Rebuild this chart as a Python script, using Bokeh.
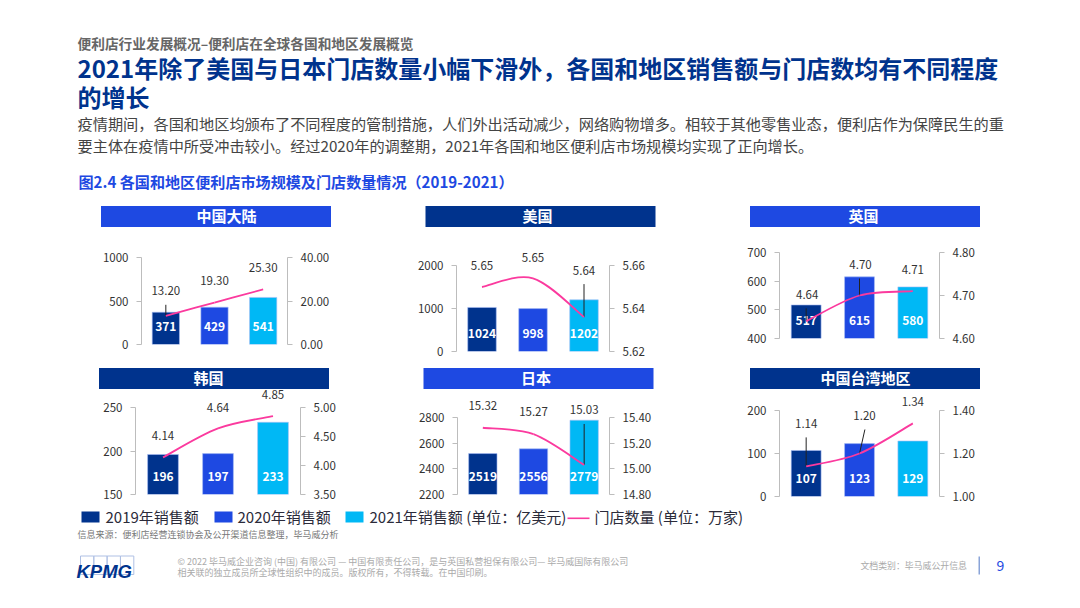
from bokeh.core.properties import value
from bokeh.embed import file_html
from bokeh.layouts import column, row
from bokeh.models import (BoxAnnotation, ColumnDataSource, FixedTicker, Label,
                          LinearAxis, NumeralTickFormatter, Range1d)
from bokeh.plotting import figure
from bokeh.resources import INLINE

# ---------- data ----------
YEARS = ["2019", "2020", "2021"]
sales_china = [371, 429, 541]
stores_china = [13.20, 19.30, 25.30]
sales_us = [1024, 998, 1202]
stores_us = [5.650, 5.654, 5.636]
sales_uk = [517, 615, 580]
stores_uk = [4.64, 4.70, 4.71]
sales_korea = [196, 197, 233]
stores_korea = [4.14, 4.64, 4.85]
sales_japan = [2519, 2556, 2779]
stores_japan = [15.32, 15.27, 15.03]
sales_taiwan = [107, 123, 129]
stores_taiwan = [1.14, 1.20, 1.34]

ticks_china = ([0, 500, 1000], [0, 20, 40])
ticks_us = ([0, 1000, 2000], [5.62, 5.64, 5.66])
ticks_uk = ([400, 500, 600, 700], [4.6, 4.7, 4.8])
ticks_korea = ([150, 200, 250], [3.5, 4.0, 4.5, 5.0])
ticks_japan = ([2200, 2400, 2600, 2800], [14.8, 15.0, 15.2, 15.4])
ticks_taiwan = ([0, 100, 200], [1.0, 1.2, 1.4])

SUBTITLE = "便利店行业发展概况–便利店在全球各国和地区发展概览"
TITLE_1 = "2021年除了美国与日本门店数量小幅下滑外，各国和地区销售额与门店数均有不同程度"
TITLE_2 = "的增长"
BODY_1 = "疫情期间，各国和地区均颁布了不同程度的管制措施，人们外出活动减少，网络购物增多。相较于其他零售业态，便利店作为保障民生的重"
BODY_2 = "要主体在疫情中所受冲击较小。经过2020年的调整期，2021年各国和地区便利店市场规模均实现了正向增长。"
CAPTION = "图2.4 各国和地区便利店市场规模及门店数量情况（2019-2021）"
SOURCE = "信息来源：便利店经营连锁协会及公开渠道信息整理，毕马威分析"
FOOT_1 = "© 2022 毕马威企业咨询 (中国) 有限公司 — 中国有限责任公司，是与英国私营担保有限公司— 毕马威国际有限公司"
FOOT_2 = "相关联的独立成员所全球性组织中的成员。版权所有，不得转载。在中国印刷。"
DOC_CLASS = "文档类别：毕马威公开信息"

# ---------- style ----------
FONT = "Noto Sans CJK SC"
NAVY, BLUE, CYAN, PINK = "#00338D", "#1E49E2", "#00B8F5", "#FB3A9E"
BAR_COLORS = [NAVY, BLUE, CYAN]
TEXT = "#333333"
ROW1 = (240, 360)
ROW2 = (385, 505)
MID_BOTTOM = 389


def panel(sales, stores, ticks, box, offsets, leaders):
    """box: page px (panel_left, panel_right, panel_top, panel_bottom, frame_left, frame_w, frame_top, frame_h)

    The frame runs up to the panel top so that labels above the axes stay visible; the
    ranges are extended by the same share and the axes are bounded to their ticks.
    """
    pl, pr, pt, pb, fl, fw, ft, fh = box
    left_ticks, right_ticks = ticks
    y0, y1 = left_ticks[0], left_ticks[-1]
    r0, r1 = right_ticks[0], right_ticks[-1]
    extra = (ft - pt) / fh
    p = figure(title=None, width=None, height=None, frame_width=fw, frame_height=fh + ft - pt,
               x_range=Range1d(0, 3), y_range=Range1d(y0, y1 + (y1 - y0) * extra),
               output_backend="svg", toolbar_location=None,
               min_border_left=fl - pl, min_border_right=pr - fl - fw,
               min_border_top=0, min_border_bottom=pb - ft - fh,
               outline_line_color=None, background_fill_alpha=0, border_fill_alpha=0)
    p.grid.visible = False
    p.xaxis.visible = False
    p.yaxis.visible = False
    p.extra_y_ranges = {"stores": Range1d(r0, r1 + (r1 - r0) * extra)}

    def style(ax, values, fmt):
        ax.ticker = FixedTicker(ticks=values)
        ax.bounds = (values[0], values[-1])
        ax.formatter = NumeralTickFormatter(format=fmt)
        ax.axis_line_color = "#BDBDBD"
        ax.major_tick_line_color = "#BDBDBD"
        ax.axis_line_width = 1
        ax.major_tick_out = 5
        ax.major_tick_in = 0
        ax.minor_tick_line_color = None
        ax.major_label_standoff = 8
        ax.major_label_text_font = FONT
        ax.major_label_text_font_size = "11.5px"
        ax.major_label_text_color = TEXT

    la = LinearAxis()
    style(la, left_ticks, "0")
    ra = LinearAxis(y_range_name="stores")
    style(ra, right_ticks, "0.00")
    p.add_layout(la, "left")
    p.add_layout(ra, "right")

    xs = [i + 0.5 for i in range(len(YEARS))]
    src = ColumnDataSource(dict(x=xs, top=sales, base=[y0] * 3, color=BAR_COLORS,
                                label=[str(v) for v in sales]))
    p.vbar(x="x", top="top", bottom="base", width=0.56, fill_color="color",
           line_color="#A9BEF5", line_width=0.6, source=src)
    p.text(x="x", y="base", text="label", source=src, text_color="white",
           text_font=value(FONT), text_font_size="12px", text_font_style="bold",
           text_align="center", text_baseline="middle", y_offset=-18)

    # leader lines, converted from px to the scales
    for i, dx, dy in leaders:
        p.segment(x0=[xs[i]], y0=[stores[i]], x1=[xs[i] + dx * 3 / fw],
                  y1=[stores[i] - dy * (r1 - r0) / fh], y_range_name="stores",
                  line_color="#222222", line_width=1)

    # smoothed store-count curve through the three values
    ys = stores
    c0y = [ys[0] + (ys[1] - ys[0]) / 6, ys[1] + (ys[2] - ys[0]) / 6]
    c1y = [ys[1] - (ys[2] - ys[0]) / 6, ys[2] - (ys[2] - ys[1]) / 6]
    c0x = [xs[0] + (xs[1] - xs[0]) / 6, xs[1] + (xs[2] - xs[0]) / 6]
    c1x = [xs[1] - (xs[2] - xs[0]) / 6, xs[2] - (xs[2] - xs[1]) / 6]
    p.bezier(x0=xs[:2], y0=ys[:2], x1=xs[1:], y1=ys[1:], cx0=c0x, cy0=c0y,
             cx1=c1x, cy1=c1y, y_range_name="stores", line_color=PINK, line_width=1.8)

    # labels above the points
    for x, v, (dx, dy) in zip(xs, ys, offsets):
        p.add_layout(Label(x=x, y=v, y_range_name="stores", x_offset=dx, y_offset=-dy + 1,
                           text=f"{v:.2f}", text_color=TEXT, text_font=FONT,
                           text_font_size="11.5px", text_align="center", text_baseline="middle"))
    return column(p)


p1 = panel(sales_china, stores_china, ticks_china,
           (0, 400, *ROW1, 141, 146, 257, 87),
           [(0, -24), (0, -21), (0, -21)], [(0, 0, -11)])
p2 = panel(sales_us, stores_us, ticks_us,
           (400, 720, *ROW1, 456, 153, 265, 86),
           [(0, -21), (0, -20), (0, -46)], [(2, 0, -33)])
p3 = panel(sales_uk, stores_uk, ticks_uk,
           (720, 1080, *ROW1, 779, 160, 252, 86),
           [(1, -26), (1, -30), (0, -21)], [(0, 0, -13), (1, 0, -17)])
p4 = panel(sales_korea, stores_korea, ticks_korea,
           (0, 400, *ROW2, 135, 165, 407, 87),
           [(0, -21), (0, -20), (0, -21)], [])
p5 = panel(sales_japan, stores_japan, ticks_japan,
           (400, 720, *ROW2, 457, 152, 417, 77),
           [(0, -21), (0, -22), (0, -54)], [(2, 0, -41)])
p6 = panel(sales_taiwan, stores_taiwan, ticks_taiwan,
           (720, 1080, *ROW2, 779, 160, 410, 86),
           [(0, -42), (5, -37), (0, -21)], [(0, 0, -29), (1, 5.4, -24)])


def page_fig(top, bottom, **kw):
    f = figure(title=None, width=1080, height=bottom - top, x_range=Range1d(0, 1080), y_range=Range1d(bottom, top),
               output_backend="svg", toolbar_location=None, min_border=0, outline_line_color=None,
               background_fill_color="white", border_fill_color="white", **kw)
    f.axis.visible = False
    f.grid.visible = False
    return f


def put(f, x, y, text, size, color=TEXT, bold=False, align="left", font=FONT, style=None):
    f.add_layout(Label(x=x, y=y, y_offset=float(size[:-2]) * 0.09, text=text, text_font=font, text_font_size=size,
                       text_color=color, text_font_style=style or ("bold" if bold else "normal"),
                       text_align=align, text_baseline="middle"))


def box(f, l, r, t, b, fill, line=None):
    f.add_layout(BoxAnnotation(left=l, right=r, top=t, bottom=b, fill_color=fill,
                               fill_alpha=1 if fill else 0, line_color=line, line_alpha=1, line_width=1))


def band(f, name, color, l, r, t, b, text_x):
    box(f, l, r, t, b, color)
    put(f, text_x, (t + b) / 2, name, "15px", "white", True, "center")


head = page_fig(0, ROW1[0])
put(head, 77, 44, SUBTITLE, "13.7px", "#666666", True)
put(head, 77, 69, TITLE_1, "24px", NAVY, True)
put(head, 77, 98, TITLE_2, "24px", NAVY, True)
put(head, 77, 124, BODY_1, "15.2px", "#444444")
put(head, 77, 146, BODY_2, "15.2px", "#444444")
put(head, 78, 182, CAPTION, "15.1px", BLUE, True)
band(head, "中国大陆", BLUE, 100.5, 330.5, 205.5, 226.5, 226)
band(head, "美国", NAVY, 425, 655, 205.5, 226.5, 537)
band(head, "英国", BLUE, 749.5, 979.5, 205.5, 226.5, 863)

# the bottom of this strip lies under the (transparent) second row of panels
mid = page_fig(ROW1[1], MID_BOTTOM, margin=(0, 0, ROW2[0] - MID_BOTTOM, 0))
band(mid, "韩国", NAVY, 98.5, 328.5, 367.5, 388.5, 208)
band(mid, "日本", BLUE, 423, 653, 367.5, 388.5, 535.5)
band(mid, "中国台湾地区", NAVY, 749.5, 979.5, 367.5, 388.5, 865)

foot = page_fig(ROW2[1], 608)
for l, c in zip([81, 214, 345], BAR_COLORS):
    box(foot, l, l + 18, 511, 522, c)
put(foot, 105, 517, YEARS[0] + "年销售额", "15px", "#2B2B3A")
put(foot, 237, 517, YEARS[1] + "年销售额", "15px", "#2B2B3A")
put(foot, 369, 517, YEARS[2] + "年销售额 (单位：亿美元)", "15px", "#2B2B3A")
box(foot, 567, 589, 517, 518.6, PINK)
put(foot, 594, 517, "门店数量 (单位：万家)", "15px", "#2B2B3A")
put(foot, 77, 535, SOURCE, "9px", "#777777")
for l in [80, 93.3, 106.6, 120]:
    box(foot, l, l + 13.3, 555.5, 574, None, "#AFC0E4")
put(foot, 76, 573, "KPMG", "18.5px", NAVY, font="Liberation Sans", style="bold italic")
put(foot, 177, 562, FOOT_1, "9px", "#AAAAAA")
put(foot, 177, 573, FOOT_2, "9px", "#AAAAAA")
put(foot, 860, 566, DOC_CLASS, "8.9px", "#AAAAAA")
box(foot, 978, 979.5, 556, 574, "#8AA4D8")
put(foot, 1000, 566, "9", "14px", BLUE, align="center")

layout = column(head, row(p1, p2, p3), mid, row(p4, p5, p6), foot)
open("out.html", "w").write(file_html(layout, INLINE))
